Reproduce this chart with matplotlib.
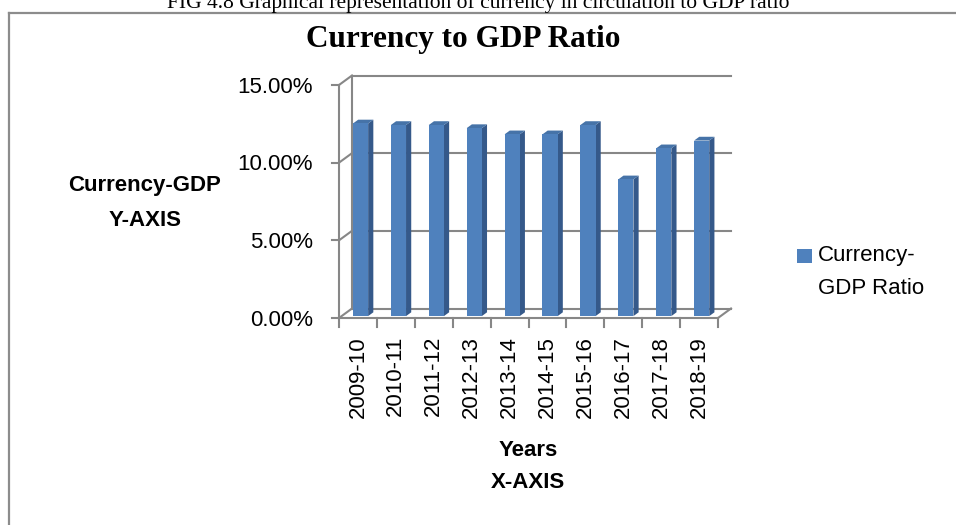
import matplotlib
matplotlib.use("Agg")
import matplotlib.pyplot as plt
from matplotlib.patches import Polygon, Rectangle
from matplotlib.lines import Line2D

# ==============================
# Data
# ==============================
years = ["2009-10", "2010-11", "2011-12", "2012-13", "2013-14",
         "2014-15", "2015-16", "2016-17", "2017-18", "2018-19"]
ratio = [12.4, 12.3, 12.3, 12.1, 11.7, 11.7, 12.3, 8.8, 10.8, 11.3]  # percent
y_ticks = [0, 5, 10, 15]

# ==============================
# Style
# ==============================
W_PX, H_PX = 956, 525
grid_col = "#878787"
front_col = "#4f81bd"
side_col = "#35598a"
top_col = "#4673a8"
sans = ["Liberation Sans", "DejaVu Sans"]
serif = ["Liberation Serif", "DejaVu Serif"]

fig = plt.figure(figsize=(W_PX / 100, H_PX / 100), dpi=100)

# plot region (front plane) in pixels: x 339..718, y 318..85
ax = fig.add_axes([339 / W_PX, 1 - 318 / H_PX, 379 / W_PX, 233 / H_PX])
ax.set_xlim(0, len(years))
ax.set_ylim(0, 15)
ax.axis("off")

# depth offset of back wall, in data units
px_x = 379 / len(years)     # pixels per category
px_y = 233 / 15             # pixels per percent
DX = 13 / px_x
DY = 9.5 / px_y

n = len(years)
lw = 1.5

# back wall gridlines + side wall diagonals + tick marks
for v in y_ticks:
    ax.add_line(Line2D([DX, n + DX], [v + DY, v + DY], color=grid_col, lw=lw, clip_on=False, zorder=1))
    ax.add_line(Line2D([0, DX], [v, v + DY], color=grid_col, lw=lw, clip_on=False, zorder=1))
    ax.add_line(Line2D([-7 / px_x, 0], [v, v], color=grid_col, lw=lw, clip_on=False, zorder=1))
    ax.annotate(f"{v:.2f}%", xy=(0, v), xytext=(-26, -2), textcoords="offset pixels",
                ha="right", va="center", fontsize=16, family=sans, annotation_clip=False)

# back wall left edge, front axis, floor
ax.add_line(Line2D([DX, DX], [DY, 15 + DY], color=grid_col, lw=lw, clip_on=False, zorder=1))
ax.add_line(Line2D([0, 0], [0, 15], color=grid_col, lw=lw, clip_on=False, zorder=1))
ax.add_line(Line2D([0, n], [0, 0], color=grid_col, lw=lw, clip_on=False, zorder=1))
ax.add_line(Line2D([n, n + DX], [0, DY], color=grid_col, lw=lw, clip_on=False, zorder=1))

# category ticks and labels
for i in range(n + 1):
    ax.add_line(Line2D([i, i], [0, -9 / px_y], color=grid_col, lw=lw, clip_on=False, zorder=1))
for i, lab in enumerate(years):
    ax.annotate(lab, xy=(i + 0.5, 0), xytext=(0, -18), textcoords="offset pixels",
                ha="center", va="top", rotation=90, fontsize=16, family=sans,
                annotation_clip=False)

# 3D-looking bars
D0, D1 = 0.2, 0.6
BW = 0.4
dd = D1 - D0
for i, v in enumerate(ratio):
    xl = i + 0.5 - BW / 2 + D0 * DX
    yb = D0 * DY
    xr = xl + BW
    front = Rectangle((xl, yb), BW, v, facecolor=front_col, edgecolor="none", zorder=4)
    side = Polygon([(xr, yb), (xr, yb + v), (xr + dd * DX, yb + v + dd * DY), (xr + dd * DX, yb + dd * DY)],
                   closed=True, facecolor=side_col, edgecolor="none", zorder=3)
    top = Polygon([(xl, yb + v), (xr, yb + v), (xr + dd * DX, yb + v + dd * DY), (xl + dd * DX, yb + v + dd * DY)],
                  closed=True, facecolor=top_col, edgecolor="none", zorder=3)
    for p in (side, top, front):
        p.set_clip_on(False)
        ax.add_patch(p)

# ==============================
# Texts
# ==============================
def fx(x):
    return x / W_PX

def fy(y):
    return 1 - y / H_PX

# caption of the figure, cut off at the top edge as in the source page
fig.text(fx(478), fy(8), "FIG 4.8 Graphical representation of currency in circulation to GDP ratio",
         ha="center", va="baseline", fontsize=15.5, family=serif)
fig.text(fx(463.5), fy(47), "Currency to GDP Ratio", ha="center", va="baseline",
         fontsize=22.5, fontweight="bold", family=serif)

fig.text(fx(145), fy(185), "Currency-GDP", ha="center", va="center", fontsize=16, fontweight="bold", family=sans)
fig.text(fx(145), fy(220), "Y-AXIS", ha="center", va="center", fontsize=16, fontweight="bold", family=sans)
fig.text(fx(528), fy(450), "Years", ha="center", va="center", fontsize=16, fontweight="bold", family=sans)
fig.text(fx(528), fy(483), "X-AXIS", ha="center", va="center", fontsize=16, fontweight="bold", family=sans)

# legend
fig.add_artist(Rectangle((fx(797), fy(263)), 15 / W_PX, 14 / H_PX, transform=fig.transFigure,
                         facecolor=front_col, edgecolor="none"))
fig.text(fx(818), fy(255), "Currency-", ha="left", va="center", fontsize=16, family=sans)
fig.text(fx(818), fy(288), "GDP Ratio", ha="left", va="center", fontsize=16, family=sans)

# outer chart frame (runs off the right and bottom of the picture)
fig.add_artist(Line2D([fx(9), fx(9)], [fy(13), 0], transform=fig.transFigure, color="#8c8c8c", lw=1.6))
fig.add_artist(Line2D([fx(9), 1], [fy(13), fy(13)], transform=fig.transFigure, color="#8c8c8c", lw=1.6))

fig.savefig("out.png", dpi=100)
